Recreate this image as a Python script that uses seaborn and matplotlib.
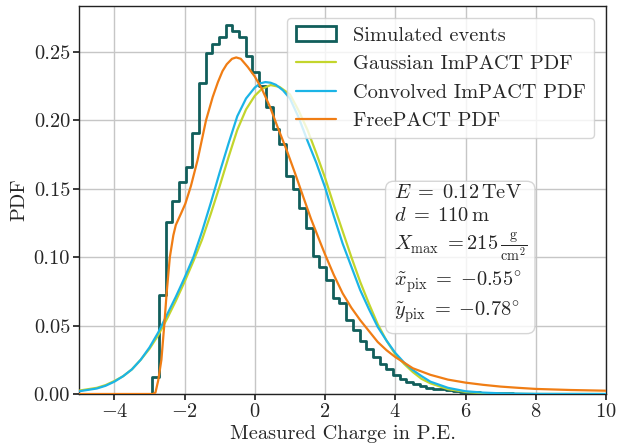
import numpy as np
import pandas as pd
import matplotlib
matplotlib.use("Agg")
import matplotlib.pyplot as plt
from matplotlib.patches import Patch
from matplotlib.lines import Line2D
import seaborn as sns

# ---------------- data ----------------
hist_first_edge = -2.924
hist_bin_width = 0.1905
hist_heights = [0.0125, 0.072, 0.126, 0.141, 0.155, 0.166, 0.191, 0.227, 0.249, 0.256,
                0.261, 0.270, 0.265, 0.261, 0.247, 0.235, 0.225, 0.210, 0.194, 0.183,
                0.159, 0.150, 0.136, 0.121, 0.1005, 0.093, 0.083, 0.070, 0.0665, 0.054,
                0.047, 0.0385, 0.033, 0.027, 0.022, 0.018, 0.014, 0.011, 0.0085, 0.007,
                0.0057, 0.0047, 0.004, 0.0033, 0.0027, 0.0022, 0.0018, 0.0015, 0.0012, 0.001,
                0.0008, 0.0007, 0.0005, 0.0004]

conv_x = [-5.0, -4.75, -4.5, -4.25, -4.0, -3.75, -3.5, -3.25, -3.0, -2.75, -2.5, -2.25,
          -2.0, -1.75, -1.5, -1.25, -1.0, -0.75, -0.5, -0.25, 0.0, 0.15, 0.3, 0.45, 0.6,
          0.8, 1.0, 1.25, 1.5, 1.75, 2.0, 2.25, 2.5, 2.75, 3.0, 3.25, 3.5, 3.75, 4.0, 4.25,
          4.5, 4.75, 5.0, 5.5, 6.0, 6.5, 7.0, 8.0, 10.0]
conv_y = [0.002, 0.003, 0.004, 0.006, 0.009, 0.013, 0.018, 0.025, 0.034, 0.045, 0.058,
          0.071, 0.085, 0.100, 0.119, 0.140, 0.162, 0.183, 0.203, 0.216, 0.224, 0.227,
          0.228, 0.2275, 0.226, 0.222, 0.216, 0.202, 0.185, 0.169, 0.151, 0.130, 0.110,
          0.093, 0.076, 0.062, 0.049, 0.039, 0.030, 0.023, 0.0175, 0.013, 0.009, 0.0045,
          0.002, 0.001, 0.0005, 0.0001, 0.0]

gaus_x = [-5.0, -4.75, -4.5, -4.25, -4.0, -3.75, -3.5, -3.25, -3.0, -2.75, -2.5, -2.25,
          -2.0, -1.75, -1.5, -1.25, -1.0, -0.75, -0.5, -0.25, 0.0, 0.2, 0.45, 0.7, 1.0,
          1.25, 1.5, 1.75, 2.0, 2.25, 2.5, 2.75, 3.0, 3.25, 3.5, 3.75, 4.0, 4.25, 4.5,
          4.75, 5.0, 5.5, 6.0, 6.5, 7.0, 8.0, 10.0]
gaus_y = [0.0025, 0.0035, 0.0045, 0.0065, 0.0095, 0.013, 0.018, 0.025, 0.033, 0.043,
          0.055, 0.068, 0.082, 0.097, 0.113, 0.132, 0.152, 0.173, 0.193, 0.208, 0.218,
          0.223, 0.2258, 0.2245, 0.219, 0.207, 0.193, 0.176, 0.158, 0.138, 0.119, 0.100,
          0.082, 0.066, 0.051, 0.039, 0.029, 0.022, 0.016, 0.011, 0.0078, 0.0035, 0.0015,
          0.0006, 0.0002, 0.0, 0.0]

free_x = [-5.0, -2.9, -2.83, -2.75, -2.66, -2.58, -2.51, -2.42, -2.32, -2.25, -2.1, -1.98,
          -1.82, -1.63, -1.39, -1.2, -1.05, -0.92, -0.8, -0.65, -0.53, -0.4, -0.2, 0.0,
          0.2, 0.43, 0.65, 0.91, 1.15, 1.38, 1.6, 1.86, 2.0, 2.25, 2.5, 2.75, 3.0, 3.25,
          3.5, 3.75, 4.0, 4.5, 5.0, 5.5, 6.0, 6.5, 7.0, 7.5, 8.0, 9.0, 10.0]
free_y = [0.0, 0.0, 0.001, 0.010, 0.025, 0.050, 0.074, 0.100, 0.116, 0.1235, 0.132, 0.139,
          0.152, 0.171, 0.200, 0.217, 0.228, 0.236, 0.241, 0.245, 0.246, 0.245, 0.239,
          0.232, 0.223, 0.210, 0.195, 0.178, 0.161, 0.144, 0.128, 0.111, 0.102, 0.087,
          0.0736, 0.063, 0.054, 0.046, 0.038, 0.032, 0.027, 0.0188, 0.0140, 0.0105, 0.0083,
          0.0067, 0.0054, 0.0045, 0.0037, 0.0029, 0.0024]

labels = ["Simulated events", "Gaussian ImPACT PDF", "Convolved ImPACT PDF", "FreePACT PDF"]
info_lines = [r"$E\;=\;0.12\,\mathrm{TeV}$",
              r"$d\;=\;110\,\mathrm{m}$",
              r"$X_\mathrm{max}\;=$215$\,\frac{\mathrm{g}}{\mathrm{cm}^2}$",
              r"$\tilde{x}_\mathrm{pix}\;=\;{-0.55^{\!\circ}}$",
              r"$\tilde{y}_\mathrm{pix}\;=\;{-0.78^{\!\circ}}$"]

c_hist = "#115e5b"
c_gaus = "#c3d52c"
c_conv = "#1bb4e6"
c_free = "#f07d14"

# ---------------- style ----------------
sns.set_theme(style="ticks")
plt.rcParams["font.family"] = ["cmr10", "DejaVu Serif"]
plt.rcParams["mathtext.fontset"] = "cm"
plt.rcParams["axes.formatter.use_mathtext"] = True
plt.rcParams["axes.unicode_minus"] = True

FS = 14.7

fig = plt.figure(figsize=(6.19, 4.47), dpi=100)
ax = fig.add_axes([0.128, 0.1186, 0.851, 0.868])

n = len(hist_heights)
edges = [float(e) for e in hist_first_edge + hist_bin_width * np.arange(-1, n + 2)]
heights_full = [0.0] + list(hist_heights) + [0.0]
centers = [0.5 * (edges[i] + edges[i + 1]) for i in range(len(edges) - 1)]
df_hist = pd.DataFrame({"x": centers, "w": heights_full})

sns.histplot(data=df_hist, x="x", weights="w", bins=edges, stat="count",
             element="step", fill=False, color=c_hist, linewidth=2.0, ax=ax, zorder=3)

sns.lineplot(x=gaus_x, y=gaus_y, color=c_gaus, linewidth=1.6, ax=ax, zorder=4)
sns.lineplot(x=conv_x, y=conv_y, color=c_conv, linewidth=1.6, ax=ax, zorder=4)
sns.lineplot(x=free_x, y=free_y, color=c_free, linewidth=1.6, ax=ax, zorder=5)

ax.set_xlim(-5, 10)
ax.set_ylim(0, 0.2836)
ax.set_xticks([-4, -2, 0, 2, 4, 6, 8, 10])
ax.set_yticks([0.0, 0.05, 0.10, 0.15, 0.20, 0.25])
ax.yaxis.set_major_formatter(matplotlib.ticker.FormatStrFormatter("%.2f"))
ax.grid(True, color="#c6c6c6", linewidth=1.0)
ax.set_axisbelow(True)
for s in ax.spines.values():
    s.set_color("#222222")
    s.set_linewidth(1.0)
ax.tick_params(labelsize=FS, length=4.0, pad=2.5, color="#222222")

ax.set_xlabel("Measured Charge in P.E.", fontsize=FS, labelpad=3)
ax.set_ylabel("PDF", fontsize=FS, labelpad=4)

handles = [Patch(facecolor="none", edgecolor=c_hist, linewidth=2.0),
           Line2D([], [], color=c_gaus, linewidth=1.6),
           Line2D([], [], color=c_conv, linewidth=1.6),
           Line2D([], [], color=c_free, linewidth=1.6)]
leg = ax.legend(handles, labels, loc="upper right", fontsize=FS, framealpha=0.8,
                edgecolor="#cccccc", fancybox=True, borderaxespad=0.6,
                handletextpad=0.8, labelspacing=0.5)
leg.set_zorder(10)

ax.text(0.597, 0.54, "\n".join(info_lines), transform=ax.transAxes, fontsize=FS,
        va="top", ha="left", linespacing=1.3, zorder=11,
        bbox=dict(boxstyle="round,pad=0.4", facecolor="white", alpha=0.8,
                  edgecolor="#cccccc"))

fig.savefig("out.png", dpi=100)
